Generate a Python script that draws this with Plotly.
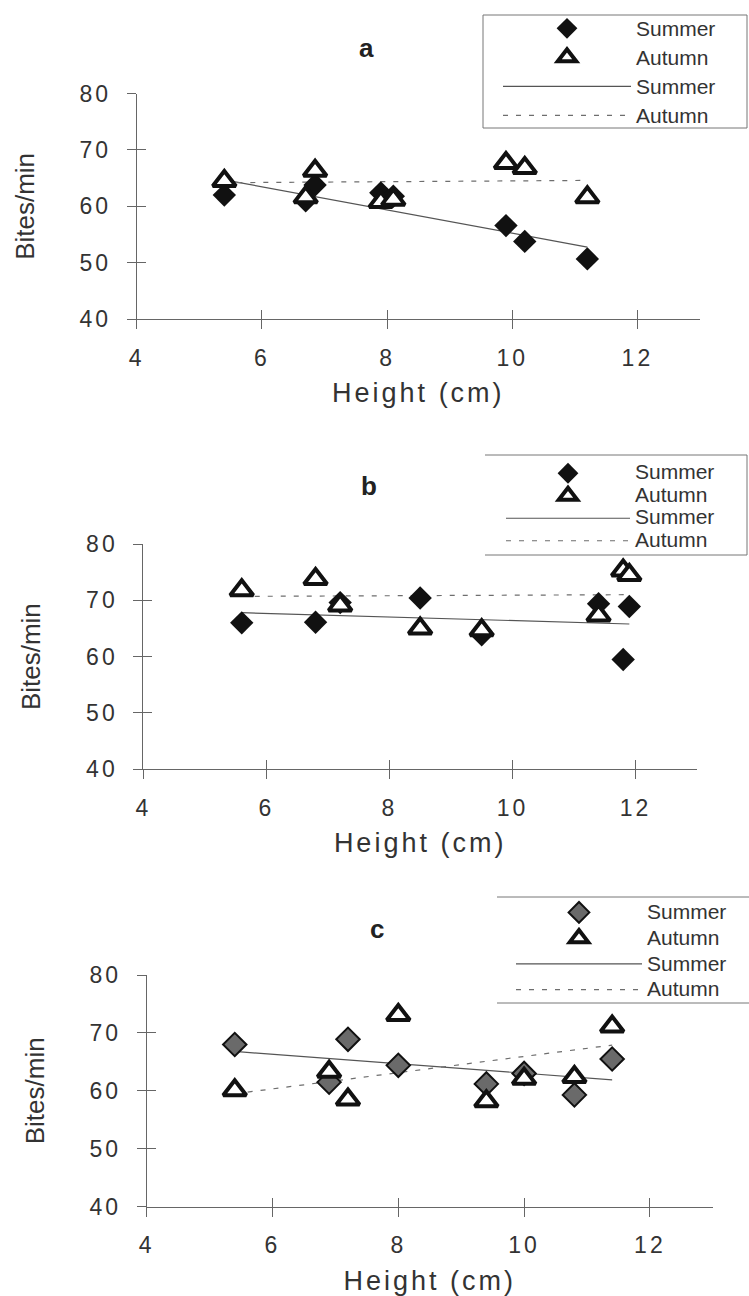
import plotly.graph_objects as go

W, H = 749, 1296

# ---------------- data ----------------
x_ticks = [4, 6, 8, 10, 12]
y_ticks = [40, 50, 60, 70, 80]
panel_labels = ["a", "b", "c"]
season_names = ["Summer", "Autumn"]
x_title = "Height (cm)"
y_title = "Bites/min"

# panel a
a_x = [5.4, 6.7, 6.85, 7.9, 8.1, 9.9, 10.2, 11.2]
a_summer = [62.0, 61.0, 63.8, 62.4, 61.8, 56.6, 53.8, 50.7]
a_autumn = [64.5, 61.6, 66.3, 60.8, 61.2, 67.7, 66.8, 61.6]
a_fit_x = [5.4, 11.2]
a_fit_summer = [64.7, 52.8]
a_fit_autumn = [64.2, 64.6]

# panel b
b_x = [5.6, 6.8, 7.2, 8.5, 9.5, 11.4, 11.8, 11.9]
b_summer = [66.0, 66.1, 69.6, 70.4, 63.9, 69.4, 59.5, 68.9]
b_autumn = [71.8, 73.8, 69.1, 65.0, 64.7, 67.3, 75.3, 74.5]
b_fit_x = [5.6, 11.9]
b_fit_summer = [67.8, 65.8]
b_fit_autumn = [70.7, 71.0]

# panel c
c_x = [5.4, 6.9, 7.2, 8.0, 9.4, 10.0, 10.8, 11.4]
c_summer = [68.0, 61.5, 68.9, 64.4, 61.2, 63.0, 59.3, 65.5]
c_autumn = [60.1, 63.3, 58.5, 73.1, 58.2, 62.1, 62.4, 71.1]
c_fit_x = [5.4, 11.4]
c_fit_summer = [66.8, 61.9]
c_fit_autumn = [59.5, 67.9]

# ---------------- layout helpers ----------------
FONT = "Liberation Sans, Arial, sans-serif"
AX = "#666666"
TXT = "#333333"


def fx(p):
    return p / W


def fy(p):
    return 1 - p / H


panels = [
    dict(x=a_x, s=a_summer, a=a_autumn, fxv=a_fit_x, fs=a_fit_summer, fa=a_fit_autumn,
         xd=(136.7, 700.0), yd=(319.3, 93.5), lab=(366, 48),
         leg=(498, 8.8, 20, 128), dfill="#111111", dline=0),
    dict(x=b_x, s=b_summer, a=b_autumn, fxv=b_fit_x, fs=b_fit_summer, fa=b_fit_autumn,
         xd=(143.3, 697.0), yd=(769.3, 544.0), lab=(369, 486),
         leg=(501, 457.0, 15, 124), dfill="#111111", dline=0),
    dict(x=c_x, s=c_summer, a=c_autumn, fxv=c_fit_x, fs=c_fit_summer, fa=c_fit_autumn,
         xd=(146.7, 712.8), yd=(1206.7, 975.0), lab=(377, 929),
         leg=(511, 894.5, 17.5, 126), dfill="#6a6a6a", dline=2),
]

fig = go.Figure()
layout = dict(
    width=W, height=H, margin=dict(l=0, r=0, t=0, b=0, autoexpand=False),
    paper_bgcolor="white", plot_bgcolor="white",
    font=dict(family=FONT, color=TXT),
    showlegend=True, annotations=[], shapes=[],
)

for i, p in enumerate(panels):
    n = i + 1
    sx = "" if n == 1 else str(n)
    xa, ya = "x" + sx, "y" + sx
    ox, oy = "x" + str(n + 3), "y" + str(n + 3)
    legname = "legend" if n == 1 else "legend" + str(n)

    def nm(t):
        return '<span style="font-size:21px">' + t + "</span>"

    # trend lines (drawn first, listed last in the legend)
    fig.add_trace(go.Scatter(x=p["fxv"], y=p["fs"], mode="lines", name=nm(season_names[0]),
                             line=dict(color="#555555", width=1.2), xaxis=xa, yaxis=ya,
                             legend=legname, legendrank=3, hoverinfo="skip"))
    fig.add_trace(go.Scatter(x=p["fxv"], y=p["fa"], mode="lines", name=nm(season_names[1]),
                             line=dict(color="#6e6e6e", width=1.2, dash="5px,8px"),
                             xaxis=xa, yaxis=ya, legend=legname, legendrank=4, hoverinfo="skip"))
    # markers
    fig.add_trace(go.Scatter(x=p["x"], y=p["s"], mode="markers", name=nm(season_names[0]),
                             marker=dict(symbol="diamond", size=18, color=p["dfill"],
                                         line=dict(color="#111111", width=p["dline"])),
                             xaxis=xa, yaxis=ya, legend=legname, legendrank=1))
    fig.add_trace(go.Scatter(x=p["x"], y=p["a"], mode="markers", name=nm(season_names[1]),
                             marker=dict(symbol="triangle-up", size=20, color="white",
                                         line=dict(color="#111111", width=4)),
                             xaxis=xa, yaxis=ya, legend=legname, legendrank=2))
    # empty traces so the overlay axes (inner half of the crossing ticks) are drawn
    fig.add_trace(go.Scatter(x=[], y=[], xaxis=ox, yaxis=ya, showlegend=False, hoverinfo="skip"))
    fig.add_trace(go.Scatter(x=[], y=[], xaxis=xa, yaxis=oy, showlegend=False, hoverinfo="skip"))

    xdom = [fx(p["xd"][0]), fx(p["xd"][1])]
    ydom = [fy(p["yd"][0]), fy(p["yd"][1])]
    common = dict(showgrid=False, zeroline=False, fixedrange=True)
    layout["xaxis" + sx] = dict(domain=xdom, range=[4, 13], tickvals=x_ticks, anchor=ya,
                                showline=True, linecolor=AX, linewidth=1,
                                ticks="outside", ticklen=9, tickcolor=AX,
                                tickfont=dict(size=23, color=TXT), ticklabelstandoff=9,
                                title=dict(text=x_title, font=dict(size=27, color=TXT), standoff=13),
                                automargin=False, **common)
    layout["yaxis" + sx] = dict(domain=ydom, range=[40, 80], tickvals=y_ticks, anchor=xa,
                                showline=True, linecolor=AX, linewidth=1,
                                ticks="outside", ticklen=9, tickcolor=AX,
                                tickfont=dict(size=23, color=TXT), ticklabelstandoff=11,
                                title=dict(text=y_title, font=dict(size=26, color=TXT), standoff=43),
                                automargin=False, **common)
    layout["xaxis" + str(n + 3)] = dict(overlaying=xa, anchor=ya, range=[4, 13], tickvals=x_ticks,
                                        ticks="inside", ticklen=9, tickcolor=AX,
                                        showticklabels=False, showline=False, side="bottom",
                                        **common)
    layout["yaxis" + str(n + 3)] = dict(overlaying=ya, anchor=xa, range=[40, 80], tickvals=y_ticks,
                                        ticks="inside", ticklen=9, tickcolor=AX,
                                        showticklabels=False, showline=False, side="left",
                                        **common)

    lx, ly, lfs, lw = p["leg"]
    layout[legname] = dict(x=fx(lx), y=fy(ly), xanchor="left", yanchor="top",
                           bgcolor="rgba(0,0,0,0)", borderwidth=0, itemwidth=lw,
                           font=dict(size=lfs, family=FONT, color=TXT),
                           traceorder="normal", itemclick=False, itemdoubleclick=False)

    layout["annotations"].append(dict(text="<b>" + panel_labels[i] + "</b>", x=fx(p["lab"][0]),
                                      y=fy(p["lab"][1]), xref="paper", yref="paper",
                                      showarrow=False, xanchor="center", yanchor="middle",
                                      font=dict(size=26, color="#222222", family=FONT)))

# legend frames
box = dict(type="rect", xref="paper", yref="paper", line=dict(color="#777777", width=1))
layout["shapes"].append(dict(box, x0=fx(483), x1=fx(747), y0=fy(128), y1=fy(15)))
ln = dict(type="line", xref="paper", yref="paper", line=dict(color="#777777", width=1))
layout["shapes"] += [
    dict(ln, x0=fx(485), x1=fx(747), y0=fy(455), y1=fy(455)),
    dict(ln, x0=fx(485), x1=fx(747), y0=fy(555), y1=fy(555)),
    dict(ln, x0=fx(747), x1=fx(747), y0=fy(455), y1=fy(555)),
    dict(ln, x0=fx(497), x1=fx(749), y0=fy(897), y1=fy(897)),
    dict(ln, x0=fx(497), x1=fx(749), y0=fy(1003), y1=fy(1003)),
]

fig.update_layout(**layout)

post = """
var st = document.createElement('style');
st.textContent = '[class*="axislayer"] text, text.xtitle, text.x2title, text.x3title {letter-spacing: 3px;}';
document.head.appendChild(st);
"""

fig.write_html("out.html", post_script=post, config={"displayModeBar": False})
